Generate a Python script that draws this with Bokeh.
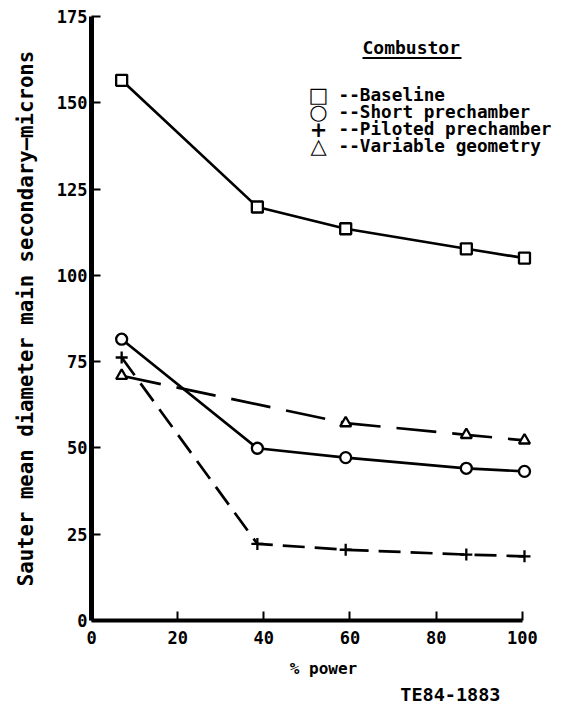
from bokeh.plotting import figure
from bokeh.models import Range1d, Label, BoxAnnotation, FixedTicker, Title
from bokeh.embed import file_html
from bokeh.resources import INLINE

# ---- data ----
power = [7, 38.5, 59, 87, 100.5]
baseline = [156.5, 119.8, 113.5, 107.7, 105.0]
short_prechamber = [81.5, 49.9, 47.2, 44.1, 43.2]
piloted_prechamber = [76.2, 22.2, 20.5, 19.1, 18.6]
power_variable = [7, 59, 87, 100.5]
variable_geometry = [70.9, 57.2, 53.8, 52.2]

x_ticks = [0, 20, 40, 60, 80, 100]
y_ticks = [0, 25, 50, 75, 100, 125, 150, 175]

series_names = ["--Baseline", "--Short prechamber", "--Piloted prechamber", "--Variable geometry"]
series_symbols = ["\u25a1", "\u25cb", "+", "\u25b3"]

FONT = "DejaVu Sans Mono"

W, H = 560, 708
X0, X1 = 0, 107.7
Y0, Y1 = 0, 175
MB_L, MB_R, MB_T, MB_B = 91, 5, 16, 88

p = figure(width=W, height=H, x_range=Range1d(X0, X1), y_range=Range1d(Y0, Y1),
           output_backend="svg", toolbar_location=None,
           min_border_left=MB_L, min_border_right=MB_R,
           min_border_top=MB_T, min_border_bottom=MB_B)
p.outline_line_color = None
p.xgrid.visible = False
p.ygrid.visible = False
p.background_fill_color = "white"
p.border_fill_color = "white"

# canvas pixel -> data position helpers (for annotation placement only)
fx0 = MB_L
fx1 = W - MB_R
fy0 = H - MB_B
fy1 = MB_T
def dx(px):
    return X0 + (px - fx0) * (X1 - X0) / (fx1 - fx0)
def dy(py):
    return Y0 + (fy0 - py) * (Y1 - Y0) / (fy0 - fy1)

for ax, ticks, lw, bnd in ((p.xaxis[0], x_ticks, 4, (0, 100)), (p.yaxis[0], y_ticks, 5, (0, 175))):
    ax.ticker = FixedTicker(ticks=ticks)
    ax.bounds = bnd
    ax.axis_line_width = lw
    ax.axis_line_color = "black"
    ax.major_tick_in = 9
    ax.major_tick_out = 0
    ax.major_tick_line_width = 2
    ax.minor_tick_line_color = None
    ax.major_label_text_font = FONT
    ax.major_label_text_font_style = "bold"
    ax.major_label_text_font_size = "17px"
    ax.major_label_text_color = "black"
    ax.axis_label_text_font = FONT
    ax.axis_label_text_font_style = "bold"
    ax.axis_label_text_color = "black"

p.xaxis.axis_label = "% power"
p.xaxis.axis_label_text_font_size = "16px"
p.xaxis.major_label_standoff = 10
p.xaxis.axis_label_standoff = 12
p.yaxis.axis_label = "Sauter mean diameter main secondary\u2014microns"
p.yaxis.axis_label_text_font_size = "20.7px"
p.yaxis.major_label_standoff = 4
p.yaxis.axis_label_standoff = 16

# ---- series ----
p.line(power, baseline, line_color="black", line_width=2.7)
p.scatter(power, baseline, marker="square", size=11, fill_color="white",
          line_color="black", line_width=2.3)

p.line(power, short_prechamber, line_color="black", line_width=2.7)
p.scatter(power, short_prechamber, marker="circle", size=11, fill_color="white",
          line_color="black", line_width=2.3)

p.line(power, piloted_prechamber, line_color="black", line_width=2.7, line_dash="22 10")
p.scatter(power, piloted_prechamber, marker="cross", size=12,
          line_color="black", line_width=2.3)

p.line(power_variable, variable_geometry, line_color="black", line_width=2.7, line_dash="40 16")
p.scatter(power_variable, variable_geometry, marker="triangle", size=11, fill_color="white",
          line_color="black", line_width=2.3)

# ---- legend (drawn as annotations) ----
p.add_layout(Label(x=dx(362), y=dy(47), text="Combustor", text_font=FONT,
                   text_font_style="bold", text_font_size="18px", text_color="black",
                   text_align="left", text_baseline="middle"))
p.add_layout(BoxAnnotation(left=dx(362), right=dx(461), top=dy(56.5), bottom=dy(58.5),
                           fill_color="black", fill_alpha=1, line_alpha=0))
row_y = [94, 111, 128, 145]
for sym, name, py in zip(series_symbols, series_names, row_y):
    p.add_layout(Label(x=dx(318), y=dy(py), text=sym, text_font="DejaVu Sans",
                       text_font_style="bold", text_font_size="21px", text_color="black",
                       text_align="center", text_baseline="middle"))
    p.add_layout(Label(x=dx(338), y=dy(py), text=name, text_font=FONT,
                       text_font_style="bold", text_font_size="17.7px", text_color="black",
                       text_align="left", text_baseline="middle"))

p.add_layout(Title(text="TE84-1883", align="right", offset=55, standoff=2,
                   text_font=FONT, text_font_style="bold", text_font_size="18.5px",
                   text_color="black"), "below")

open("out.html", "w").write(file_html(p, INLINE))
